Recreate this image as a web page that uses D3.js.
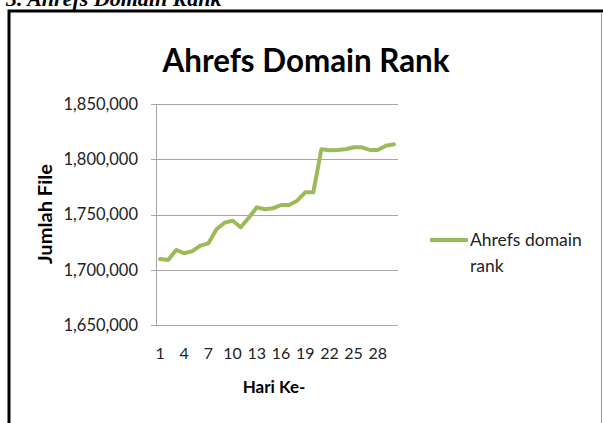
<!DOCTYPE html>
<html>
<head>
<meta charset="utf-8">
<script src="https://cdn.jsdelivr.net/npm/d3@7"></script>
<style>
  html, body { margin: 0; padding: 0; background: #fff; }
  svg { display: block; }
</style>
</head>
<body>
<svg id="chart" width="603" height="423"></svg>
<script>
const days = d3.range(1, 31);
const rankValues = [
  1709700, 1708800, 1717900, 1714900, 1716900, 1721800, 1723900, 1736600, 1742600, 1744400,
  1738400, 1747100, 1756500, 1754700, 1755600, 1758600, 1758600, 1762500, 1770100, 1770100,
  1809000, 1808100, 1808400, 1809000, 1810800, 1810800, 1808400, 1808400, 1812300, 1813500
];
const yTicks = [1650000, 1700000, 1750000, 1800000, 1850000];
const xTickLabels = [1, 4, 7, 10, 13, 16, 19, 22, 25, 28];
const seriesName = "Ahrefs domain rank";
const chartTitle = "Ahrefs Domain Rank";
const yTitle = "Jumlah File";
const xTitle = "Hari Ke-";
const headerText = "3. Ahrefs Domain Rank";

const svg = d3.select("#chart");
const font = "Lato, 'Open Sans', sans-serif";

// caption above the frame (clipped at top, as in the source)
svg.append("text")
  .attr("x", 6).attr("y", 6)
  .attr("font-family", "'Liberation Serif', serif")
  .attr("font-style", "italic").attr("font-weight", "bold")
  .attr("font-size", 22)
  .text(headerText);

// frame
svg.append("rect")
  .attr("x", 9).attr("y", 11)
  .attr("width", 600).attr("height", 420)
  .attr("fill", "#fff").attr("stroke", "#000").attr("stroke-width", 3);
svg.append("line")
  .attr("x1", 601.5).attr("x2", 601.5).attr("y1", 12).attr("y2", 423)
  .attr("stroke", "#999").attr("stroke-width", 1);

const plot = { left: 156, right: 398, top: 104, bottom: 325 };

const x = d3.scaleBand().domain(days).range([plot.left, plot.right]);
const y = d3.scaleLinear().domain([1650000, 1850000]).range([plot.bottom, plot.top]);

// gridlines
svg.append("g")
  .selectAll("line").data(yTicks).join("line")
  .attr("x1", plot.left - 5).attr("x2", plot.right)
  .attr("y1", d => Math.round(y(d)) + 0.5).attr("y2", d => Math.round(y(d)) + 0.5)
  .attr("stroke", "#a6a6a6").attr("stroke-width", 1);

// y axis line
svg.append("line")
  .attr("x1", plot.left + 0.5).attr("x2", plot.left + 0.5)
  .attr("y1", plot.top).attr("y2", plot.bottom)
  .attr("stroke", "#a6a6a6");

// y labels
const fmt = d3.format(",");
svg.append("g")
  .selectAll("text").data(yTicks).join("text")
  .attr("x", 138).attr("y", d => y(d))
  .attr("dy", "0.35em")
  .attr("text-anchor", "end")
  .attr("font-family", font).attr("font-size", 16.5).attr("fill", "#222")
  .text(d => fmt(d));

// x labels
svg.append("g")
  .selectAll("text").data(xTickLabels).join("text")
  .attr("x", d => x(d) + x.bandwidth() / 2).attr("y", 359)
  .attr("text-anchor", "middle")
  .attr("font-family", font).attr("font-size", 16).attr("fill", "#222")
  .text(d => d);

// line
const line = d3.line()
  .x((d, i) => x(days[i]) + x.bandwidth() / 2)
  .y(d => y(d));
svg.append("path")
  .datum(rankValues)
  .attr("d", line)
  .attr("fill", "none")
  .attr("stroke", "#9bbb59").attr("stroke-width", 4)
  .attr("stroke-linejoin", "round").attr("stroke-linecap", "round");

// title
svg.append("text")
  .attr("x", 306).attr("y", 72)
  .attr("text-anchor", "middle")
  .attr("font-family", font).attr("font-weight", "bold").attr("font-size", 32)
  .attr("textLength", 287).attr("lengthAdjust", "spacingAndGlyphs")
  .attr("fill", "#000")
  .text(chartTitle);

// axis titles
svg.append("text")
  .attr("transform", "translate(52,214) rotate(-90)")
  .attr("text-anchor", "middle")
  .attr("font-family", font).attr("font-weight", "bold").attr("font-size", 18)
  .attr("textLength", 100).attr("lengthAdjust", "spacingAndGlyphs")
  .text(yTitle);
svg.append("text")
  .attr("x", 274).attr("y", 393)
  .attr("text-anchor", "middle")
  .attr("font-family", font).attr("font-weight", "bold").attr("font-size", 17)
  .text(xTitle);

// legend
svg.append("line")
  .attr("x1", 430).attr("x2", 468).attr("y1", 240).attr("y2", 240)
  .attr("stroke", "#9bbb59").attr("stroke-width", 4);
const words = seriesName.split(" ");
const leg = svg.append("text")
  .attr("font-family", font).attr("font-size", 17.5).attr("fill", "#222");
leg.append("tspan").attr("x", 470).attr("y", 246).text(words.slice(0, 2).join(" "));
leg.append("tspan").attr("x", 470).attr("y", 272).text(words.slice(2).join(" "));
</script>
</body>
</html>
